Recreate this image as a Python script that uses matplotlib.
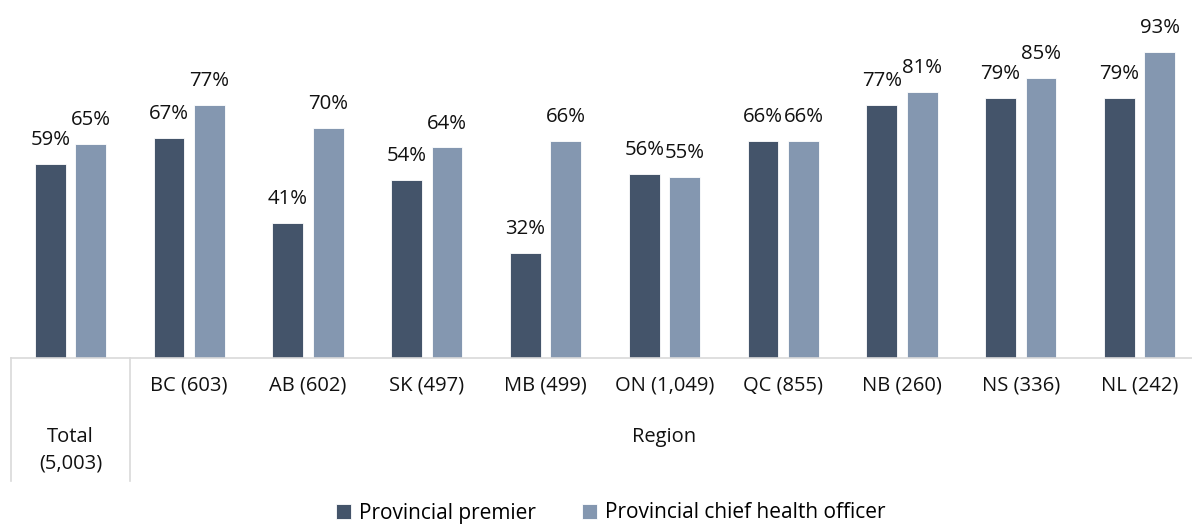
import numpy as np
import matplotlib.pyplot as plt
from matplotlib.transforms import blended_transform_factory

labels = ["Total\n(5,003)", "BC (603)", "AB (602)", "SK (497)", "MB (499)",
          "ON (1,049)", "QC (855)", "NB (260)", "NS (336)", "NL (242)"]
premier = [59, 67, 41, 54, 32, 56, 66, 77, 79, 79]
health_officer = [65, 77, 70, 64, 66, 55, 66, 81, 85, 93]
series_names = ["Provincial premier", "Provincial chief health officer"]
colors = ["#44546A", "#8497B0"]

plt.rcParams['font.family'] = ['Open Sans', 'DejaVu Sans']

fig = plt.figure(figsize=(11.92, 5.27), dpi=100)
ax = fig.add_axes([11/1192, 169/527, 1188/1192, 329/527])

x = np.arange(len(labels))
w = 0.26
off = 0.17
b1 = ax.bar(x - off, premier, w, color=colors[0], edgecolor="white", linewidth=0.6, label=series_names[0])
b2 = ax.bar(x + off, health_officer, w, color=colors[1], edgecolor="white", linewidth=0.6, label=series_names[1])

for bars, vals in [(b1, premier), (b2, health_officer)]:
    for r, v in zip(bars, vals):
        ax.annotate(f"{v}%", (r.get_x() + r.get_width()/2, v), xytext=(0, 10),
                    textcoords="offset points", ha="center", va="bottom",
                    fontsize=14.7, color="#111111", annotation_clip=False)

ax.set_xlim(-0.5, len(labels) - 0.5)
ax.set_ylim(0, 100)
ax.set_yticks([])
for s in ["top", "right", "left"]:
    ax.spines[s].set_visible(False)
ax.spines["bottom"].set_color("#d9d9d9")
ax.spines["bottom"].set_linewidth(1.2)

ax.set_xticks(x[1:])
ax.set_xticklabels(labels[1:], fontsize=14.5, color="#111111")
ax.tick_params(axis="x", length=0, pad=20)
for t in ax.get_xticklabels():
    t.set_va("center")

trans = blended_transform_factory(ax.transData, ax.transAxes)
ax.text(0, -0.28, labels[0], transform=trans, ha="center", va="center",
        fontsize=14.5, color="#111111", linespacing=1.45)
ax.text(5, -0.24, "Region", transform=trans, ha="center", va="center",
        fontsize=14.5, color="#111111")

# separators of the two-level category axis
for xs in [-0.5, 0.5]:
    ax.plot([xs, xs], [0, -0.375], transform=trans, color="#d9d9d9",
            linewidth=1.2, clip_on=False)

fig.legend(handles=[b1, b2], loc="center", bbox_to_anchor=(611/1192, 1 - 513/527),
           ncol=2, frameon=False, fontsize=15, handlelength=0.7, handleheight=0.7,
           handletextpad=0.4, columnspacing=2.2)

fig.savefig("out.png", dpi=100)
